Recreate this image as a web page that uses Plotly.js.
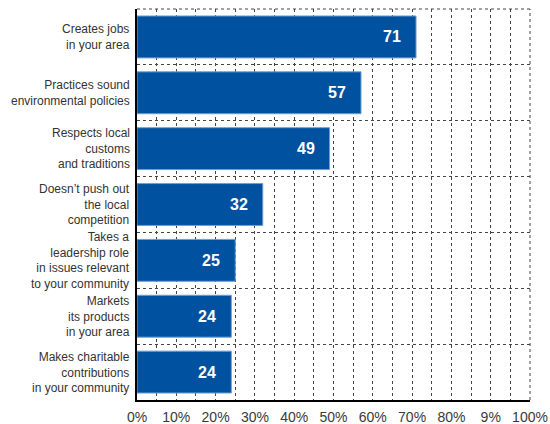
<!DOCTYPE html>
<html>
<head>
<meta charset="utf-8">
<script src="https://cdn.plot.ly/plotly-3.0.1.min.js"></script>
<style>html,body{margin:0;padding:0;background:#fff;}#chart{width:550px;height:424px;}</style>
</head>
<body>
<div id="chart"></div>
<script>
const categories = [
  "Creates jobs<br>in your area",
  "Practices sound<br>environmental policies",
  "Respects local<br>customs<br>and traditions",
  "Doesn\u2019t push out<br>the local<br>competition",
  "Takes a<br>leadership role<br>in issues relevant<br>to your community",
  "Markets<br>its products<br>in your area",
  "Makes charitable<br>contributions<br>in your community"
];
const values = [71, 57, 49, 32, 25, 24, 24];
const tickValues = [0, 10, 20, 30, 40, 50, 60, 70, 80, 90, 100];
const tickLabels = ["0%", "10%", "20%", "30%", "40%", "50%", "60%", "70%", "80%", "9%", "100%"];

const fontFam = "'Liberation Sans', Arial, sans-serif";

const trace = {
  type: 'bar',
  orientation: 'h',
  x: values,
  y: categories,
  marker: {color: '#0052A0', line: {color: '#6f9fd0', width: 1}},
  hoverinfo: 'skip'
};

const valueNotes = values.map((v, i) => ({
  x: v, y: categories[i], xref: 'x', yref: 'y',
  text: String(v), showarrow: false, xanchor: 'right', xshift: -13,
  font: {family: fontFam, size: 16, color: '#ffffff', weight: 'bold'}
}));

const labelNotes = categories.map((c) => ({
  x: 0, y: c, xref: 'paper', yref: 'y',
  text: c, showarrow: false, xanchor: 'right', align: 'right', xshift: -5,
  font: {family: fontFam, size: 12, color: '#333333'}
}));

const gridCol = '#444';

const layout = {
  width: 550, height: 424,
  margin: {l: 137, r: 20, t: 9, b: 24},
  paper_bgcolor: '#ffffff',
  plot_bgcolor: '#ffffff',
  showlegend: false,
  bargap: 0.25,
  font: {family: fontFam, color: '#333333'},
  xaxis: {
    range: [0, 100],
    tickvals: tickValues,
    ticktext: tickLabels,
    tickfont: {size: 14, family: fontFam, color: '#3a3a3a'},
    showgrid: true, gridcolor: gridCol, griddash: 'dot', gridwidth: 1,
    minor: {dtick: 5, showgrid: true, gridcolor: gridCol, griddash: 'dot', gridwidth: 1},
    showline: true, linecolor: '#000', linewidth: 2,
    mirror: false, zeroline: false, ticks: '', ticklabelstandoff: 3, fixedrange: true
  },
  yaxis: {
    type: 'category',
    autorange: 'reversed',
    tickson: 'boundaries',
    showgrid: true, gridcolor: gridCol, griddash: 'dot', gridwidth: 1,
    showline: true, linecolor: '#000', linewidth: 2,
    ticks: '', showticklabels: false,
    fixedrange: true
  },
  shapes: [
    {type: 'line', xref: 'paper', yref: 'paper', x0: 0, x1: 1, y0: 1, y1: 1, line: {color: gridCol, width: 1, dash: 'dot'}},
    {type: 'line', xref: 'paper', yref: 'paper', x0: 1, x1: 1, y0: 0, y1: 1, line: {color: gridCol, width: 1, dash: 'dot'}}
  ],
  annotations: valueNotes.concat(labelNotes)
};

Plotly.newPlot('chart', [trace], layout, {displayModeBar: false, staticPlot: true});
</script>
</body>
</html>
